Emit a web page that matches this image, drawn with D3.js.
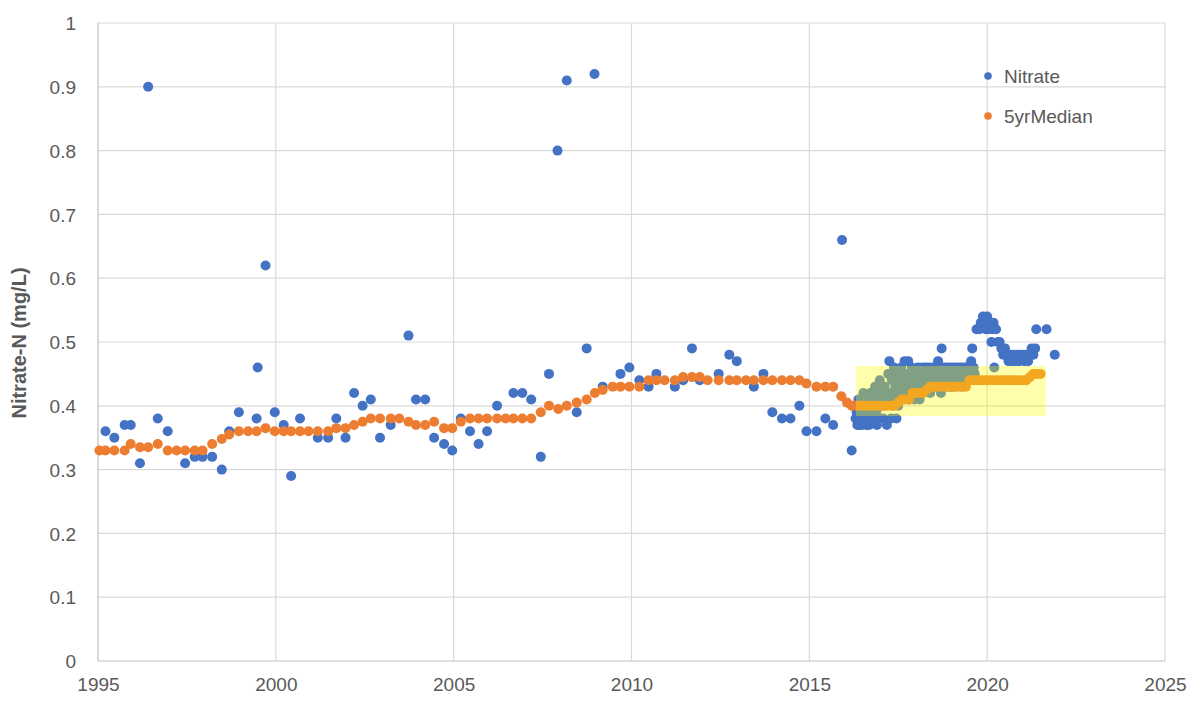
<!DOCTYPE html>
<html>
<head>
<meta charset="utf-8">
<script src="https://cdn.jsdelivr.net/npm/d3@7"></script>
<style>
  html, body { margin: 0; padding: 0; background: #fff; }
  svg text { font-family: "Liberation Sans", Arial, sans-serif; fill: #595959; }
</style>
</head>
<body>
<svg id="chart" width="1193" height="702"></svg>
<script>
// ---------- data (decimal year, mg/L) ----------
const nitrate = [
  [1995.21,0.36],[1995.46,0.35],[1995.75,0.37],[1995.92,0.37],[1996.18,0.31],[1996.41,0.90],
  [1996.68,0.38],[1996.96,0.36],[1997.45,0.31],[1997.72,0.32],[1997.94,0.32],[1998.21,0.32],
  [1998.48,0.30],[1998.69,0.36],[1998.96,0.39],[1999.46,0.38],[1999.49,0.46],[1999.71,0.62],
  [1999.97,0.39],[2000.22,0.37],[2000.43,0.29],[2000.68,0.38],[2001.18,0.35],[2001.47,0.35],
  [2001.70,0.38],[2001.96,0.35],[2002.20,0.42],[2002.44,0.40],[2002.67,0.41],[2002.93,0.35],
  [2003.23,0.37],[2003.73,0.51],[2003.94,0.41],[2004.20,0.41],[2004.45,0.35],[2004.73,0.34],
  [2004.96,0.33],[2005.20,0.38],[2005.46,0.36],[2005.70,0.34],[2005.94,0.36],[2006.22,0.40],
  [2006.68,0.42],[2006.93,0.42],[2007.18,0.41],[2007.45,0.32],[2007.68,0.45],[2007.92,0.80],
  [2008.18,0.91],[2008.46,0.39],[2008.74,0.49],[2008.96,0.92],[2009.19,0.43],[2009.69,0.45],
  [2009.94,0.46],[2010.22,0.44],[2010.48,0.43],[2010.70,0.45],[2011.22,0.43],[2011.45,0.44],
  [2011.70,0.49],[2011.92,0.44],[2012.45,0.45],[2012.75,0.48],[2012.96,0.47],[2013.44,0.43],
  [2013.71,0.45],[2013.96,0.39],[2014.23,0.38],[2014.47,0.38],[2014.72,0.40],[2014.92,0.36],
  [2015.20,0.36],[2015.45,0.38],[2015.67,0.37],[2015.92,0.66],[2016.19,0.33],
  [2016.30,0.38],[2016.32,0.40],[2016.35,0.37],[2016.38,0.41],[2016.42,0.38],[2016.45,0.39],
  [2016.48,0.37],[2016.52,0.42],[2016.55,0.38],[2016.58,0.40],[2016.62,0.38],[2016.65,0.41],
  [2016.68,0.37],[2016.72,0.42],[2016.75,0.38],[2016.78,0.40],[2016.82,0.38],[2016.85,0.43],
  [2016.88,0.39],[2016.92,0.41],[2016.95,0.38],[2016.98,0.44],[2017.02,0.40],[2017.05,0.42],
  [2017.08,0.38],[2017.12,0.43],[2017.15,0.41],[2017.18,0.37],[2017.22,0.45],[2017.25,0.47],
  [2017.28,0.42],[2017.32,0.44],[2017.35,0.40],[2017.38,0.46],[2017.42,0.43],[2017.45,0.38],
  [2017.48,0.45],[2017.52,0.42],[2017.55,0.44],[2017.58,0.46],[2017.62,0.42],[2017.65,0.44],
  [2017.68,0.47],[2017.72,0.45],[2017.75,0.43],[2017.78,0.47],[2017.82,0.44],[2017.85,0.42],
  [2017.88,0.46],[2017.92,0.44],[2017.95,0.41],[2017.98,0.45],[2018.02,0.43],[2018.05,0.46],
  [2018.08,0.44],[2018.12,0.42],[2018.15,0.45],[2018.18,0.46],[2018.22,0.43],[2018.25,0.44],
  [2018.28,0.46],[2018.32,0.45],[2018.35,0.43],[2018.38,0.46],[2018.42,0.44],[2018.45,0.45],
  [2018.48,0.46],[2018.52,0.43],[2018.55,0.44],[2018.58,0.46],[2018.62,0.47],[2018.65,0.45],
  [2018.68,0.44],[2018.72,0.49],[2018.75,0.46],[2018.78,0.45],[2018.82,0.44],[2018.85,0.46],
  [2018.88,0.45],[2018.92,0.43],[2018.95,0.46],[2018.98,0.44],[2019.02,0.45],[2019.05,0.46],
  [2019.08,0.44],[2019.12,0.45],[2019.15,0.46],[2019.18,0.44],[2019.22,0.45],[2019.25,0.46],
  [2019.28,0.45],[2019.32,0.44],[2019.35,0.46],[2019.38,0.45],[2019.42,0.46],[2019.48,0.45],
  [2019.52,0.46],[2019.58,0.49],[2019.62,0.46],[2019.70,0.52],[2019.78,0.52],[2019.82,0.53],
  [2019.88,0.54],[2019.92,0.53],[2019.96,0.52],[2020.00,0.54],[2020.05,0.52],[2020.10,0.53],
  [2020.12,0.50],[2020.15,0.52],[2020.18,0.53],[2020.20,0.46],[2020.25,0.52],[2020.30,0.50],
  [2020.35,0.50],[2020.40,0.49],[2020.45,0.48],[2020.50,0.49],[2020.55,0.48],[2020.60,0.47],
  [2020.65,0.48],[2020.70,0.47],[2020.75,0.48],[2020.80,0.47],[2020.85,0.48],[2020.90,0.47],
  [2020.95,0.48],[2021.00,0.48],[2021.05,0.47],[2021.10,0.48],[2021.15,0.47],[2021.20,0.48],
  [2021.25,0.49],[2021.30,0.48],[2021.35,0.49],[2021.38,0.52],[2021.67,0.52],[2021.90,0.48],
  [2016.33,0.39],[2016.40,0.37],[2016.47,0.40],[2016.60,0.37],[2016.70,0.39],[2016.80,0.42],
  [2016.90,0.37],[2017.00,0.42],[2017.10,0.40],[2017.20,0.41],[2017.30,0.38],[2017.40,0.41],
  [2017.50,0.40],[2017.60,0.43],[2017.70,0.42],[2017.80,0.41],[2017.90,0.43],[2018.00,0.42],
  [2018.10,0.41],[2018.20,0.42],[2018.30,0.43],[2018.40,0.42],[2018.50,0.44],[2018.60,0.43],
  [2018.70,0.42],[2018.80,0.43],[2018.90,0.44],[2019.00,0.43],[2019.10,0.43],[2019.20,0.44],
  [2019.30,0.43],[2019.40,0.44],[2019.50,0.44],[2019.55,0.47],[2019.65,0.45]
];

const median5yr = [
  [1995.04,0.33],[1995.21,0.33],[1995.46,0.33],[1995.75,0.33],[1995.92,0.34],[1996.18,0.335],
  [1996.41,0.335],[1996.68,0.34],[1996.96,0.33],[1997.21,0.33],[1997.45,0.33],[1997.72,0.33],
  [1997.94,0.33],[1998.21,0.34],[1998.48,0.348],[1998.69,0.355],[1998.96,0.36],[1999.22,0.36],
  [1999.46,0.36],[1999.71,0.365],[1999.97,0.36],[2000.22,0.36],[2000.43,0.36],[2000.68,0.36],
  [2000.92,0.36],[2001.18,0.36],[2001.47,0.36],[2001.70,0.365],[2001.96,0.365],[2002.20,0.37],
  [2002.44,0.375],[2002.67,0.38],[2002.93,0.38],[2003.23,0.38],[2003.47,0.38],[2003.73,0.375],
  [2003.94,0.37],[2004.20,0.37],[2004.45,0.375],[2004.73,0.365],[2004.96,0.365],[2005.20,0.375],
  [2005.46,0.38],[2005.70,0.38],[2005.94,0.38],[2006.22,0.38],[2006.46,0.38],[2006.68,0.38],
  [2006.93,0.38],[2007.18,0.38],[2007.45,0.39],[2007.68,0.40],[2007.94,0.395],[2008.18,0.40],
  [2008.46,0.405],[2008.74,0.41],[2008.97,0.42],[2009.19,0.425],[2009.47,0.43],[2009.69,0.43],
  [2009.94,0.43],[2010.22,0.43],[2010.48,0.44],[2010.70,0.44],[2010.93,0.44],[2011.22,0.44],
  [2011.45,0.445],[2011.70,0.445],[2011.92,0.445],[2012.14,0.44],[2012.45,0.44],[2012.75,0.44],
  [2012.96,0.44],[2013.22,0.44],[2013.44,0.44],[2013.71,0.44],[2013.96,0.44],[2014.23,0.44],
  [2014.47,0.44],[2014.72,0.44],[2014.92,0.435],[2015.20,0.43],[2015.45,0.43],[2015.67,0.43],
  [2015.90,0.415],[2016.06,0.405],[2016.19,0.40],
  [2016.3,0.40],[2016.4,0.40],[2016.5,0.40],[2016.6,0.40],[2016.7,0.40],[2016.8,0.40],
  [2016.9,0.40],[2017.0,0.40],[2017.1,0.40],[2017.2,0.40],[2017.3,0.40],[2017.4,0.40],
  [2017.5,0.405],[2017.6,0.41],[2017.7,0.41],[2017.8,0.41],[2017.9,0.42],[2018.0,0.42],
  [2018.1,0.42],[2018.2,0.42],[2018.3,0.425],[2018.4,0.43],[2018.5,0.43],[2018.6,0.43],
  [2018.7,0.43],[2018.8,0.43],[2018.9,0.43],[2019.0,0.43],[2019.1,0.43],[2019.2,0.43],
  [2019.3,0.43],[2019.4,0.43],[2019.5,0.44],[2019.6,0.44],[2019.7,0.44],[2019.8,0.44],
  [2019.9,0.44],[2020.0,0.44],[2020.1,0.44],[2020.2,0.44],[2020.3,0.44],[2020.4,0.44],
  [2020.5,0.44],[2020.6,0.44],[2020.7,0.44],[2020.8,0.44],[2020.9,0.44],[2021.0,0.44],
  [2021.1,0.44],[2021.2,0.445],[2021.3,0.45],[2021.4,0.45],[2021.5,0.45]
];

// highlighted period box: [startYear, endYear], [low, high]
const highlightYears = [2016.31, 2021.65];
const highlightRange = [0.384, 0.4625];

const xTicks = [1995, 2000, 2005, 2010, 2015, 2020, 2025];
const yTicks = [0, 0.1, 0.2, 0.3, 0.4, 0.5, 0.6, 0.7, 0.8, 0.9, 1];
const seriesNames = ["Nitrate", "5yrMedian"];
const seriesColors = ["#4472C4", "#ED7D31"];
const yTitle = "Nitrate-N (mg/L)";

// ---------- layout ----------
const svg = d3.select("#chart");
const m = { left: 98, right: 1165, top: 23, bottom: 661 };
const x = d3.scaleLinear().domain([1995, 2025]).range([m.left, m.right]);
const y = d3.scaleLinear().domain([0, 1]).range([m.bottom, m.top]);

// gridlines
svg.append("g").selectAll("line.h").data(yTicks).join("line")
  .attr("x1", m.left).attr("x2", m.right)
  .attr("y1", d => y(d)).attr("y2", d => y(d))
  .attr("stroke", d => d === 0 ? "#bfbfbf" : "#d9d9d9").attr("stroke-width", 1.2);
svg.append("g").selectAll("line.v").data(xTicks).join("line")
  .attr("x1", d => x(d)).attr("x2", d => x(d))
  .attr("y1", m.top).attr("y2", m.bottom)
  .attr("stroke", d => d === 1995 ? "#bfbfbf" : "#d9d9d9").attr("stroke-width", 1.2);

// axes (labels only)
const yAxis = svg.append("g").attr("transform", `translate(${m.left - 22},0)`)
  .call(d3.axisLeft(y).tickValues(yTicks).tickSize(0).tickFormat(d => d3.format("~g")(d)));
yAxis.select(".domain").remove();
yAxis.selectAll("text").attr("font-size", 19).attr("dy", "0.35em").attr("x", 0);

const xAxis = svg.append("g").attr("transform", `translate(0,${m.bottom + 16})`)
  .call(d3.axisBottom(x).tickValues(xTicks).tickSize(0).tickFormat(d3.format("d")));
xAxis.select(".domain").remove();
xAxis.selectAll("text").attr("font-size", 19).attr("dy", "0.71em").attr("y", 0);

// points
const r = 5;
svg.append("g").selectAll("circle").data(nitrate).join("circle")
  .attr("cx", d => x(d[0])).attr("cy", d => y(d[1])).attr("r", r).attr("fill", seriesColors[0]);
svg.append("g").selectAll("circle").data(median5yr).join("circle")
  .attr("cx", d => x(d[0])).attr("cy", d => y(d[1])).attr("r", r).attr("fill", seriesColors[1]);

// highlight box
svg.append("rect")
  .attr("x", x(highlightYears[0])).attr("width", x(highlightYears[1]) - x(highlightYears[0]))
  .attr("y", y(highlightRange[1])).attr("height", y(highlightRange[0]) - y(highlightRange[1]))
  .attr("fill", "#ffff00").attr("fill-opacity", 0.33);

// y title
svg.append("text")
  .attr("transform", `translate(26,${(m.top + m.bottom) / 2 + 1}) rotate(-90)`)
  .attr("text-anchor", "middle").attr("font-size", 20).attr("font-weight", "bold")
  .text(yTitle);

// legend
const lg = svg.append("g");
seriesNames.forEach((name, i) => {
  const ly = 76 + i * 40;
  lg.append("circle").attr("cx", 988).attr("cy", ly).attr("r", 3.8).attr("fill", seriesColors[i]);
  lg.append("text").attr("x", 1004).attr("y", ly).attr("dy", "0.35em")
    .attr("font-size", 19).text(name);
});
</script>
</body>
</html>
